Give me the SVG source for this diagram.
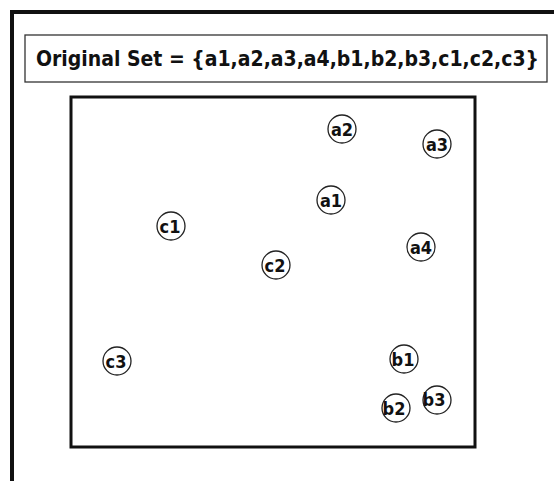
<svg xmlns="http://www.w3.org/2000/svg" width="554" height="481" viewBox="0 0 554 481">
<style>
.frame{fill:none;stroke:#111;}
.node circle{fill:#fff;stroke:#222;stroke-width:1.3;}
.node text{font-family:"DejaVu Sans Condensed","DejaVu Sans",sans-serif;font-weight:bold;font-size:18px;fill:#111;text-anchor:middle;dominant-baseline:central;}
.title{font-family:"DejaVu Sans Condensed","DejaVu Sans",sans-serif;font-weight:bold;font-size:21px;fill:#111;}
</style>
<rect width="554" height="481" fill="#fff"/>
<rect class="frame" x="12" y="12" width="560" height="480" stroke-width="4"/>
<g id="title">
<rect x="25" y="35" width="522" height="47" fill="#fff" stroke="#333" stroke-width="1.3"/>
<text class="title" x="36" y="66" textLength="503" lengthAdjust="spacingAndGlyphs">Original Set = {a1,a2,a3,a4,b1,b2,b3,c1,c2,c3}</text>
</g>
<rect id="set" class="frame" x="71" y="97" width="404" height="350" stroke-width="3"/>
<g id="connectors"></g>
<g id="a1" class="node"><circle cx="331" cy="200" r="14"/><text x="331" y="200">a1</text></g>
<g id="a2" class="node"><circle cx="342" cy="129" r="14"/><text x="342" y="129">a2</text></g>
<g id="a3" class="node"><circle cx="437" cy="144" r="14"/><text x="437" y="144">a3</text></g>
<g id="a4" class="node"><circle cx="421" cy="247" r="14"/><text x="421" y="247">a4</text></g>
<g id="b1" class="node"><circle cx="404" cy="359" r="14"/><text x="403" y="359">b1</text></g>
<g id="b2" class="node"><circle cx="396" cy="408" r="14"/><text x="394" y="408">b2</text></g>
<g id="b3" class="node"><circle cx="437" cy="400" r="14"/><text x="434" y="399">b3</text></g>
<g id="c1" class="node"><circle cx="171" cy="226" r="14"/><text x="170" y="226">c1</text></g>
<g id="c2" class="node"><circle cx="276" cy="265" r="14"/><text x="275" y="265">c2</text></g>
<g id="c3" class="node"><circle cx="117" cy="361" r="14"/><text x="116" y="361">c3</text></g>
</svg>
